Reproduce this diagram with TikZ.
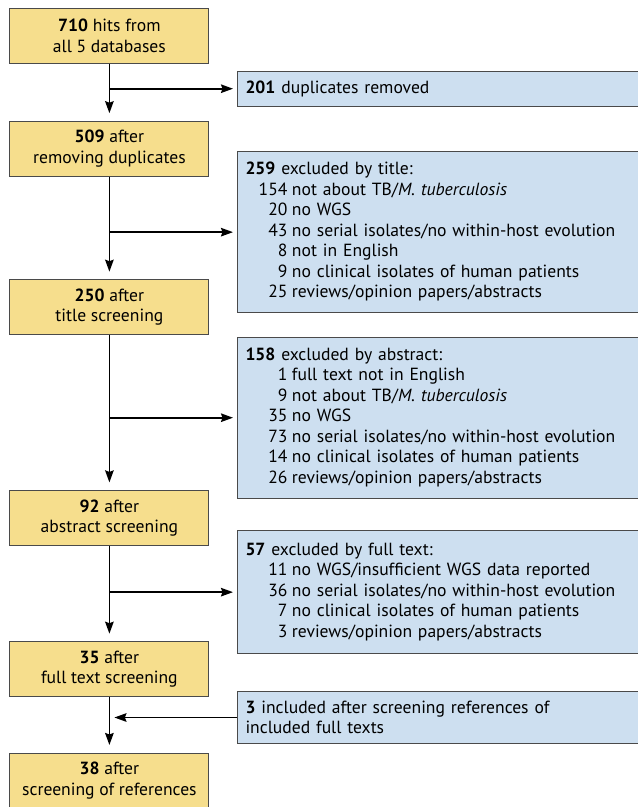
\documentclass[tikz,border=0pt]{standalone}
\usepackage{fontspec}
\setmainfont{PT Sans}
\usepackage{array}
\usetikzlibrary{arrows.meta}
\definecolor{boxyellow}{HTML}{F6DE8D}
\definecolor{boxblue}{HTML}{CDDFF0}
\definecolor{boxline}{HTML}{4A4A4A}
\newcolumntype{N}{>{\raggedleft\arraybackslash}p{42pt}}

\begin{document}
\begin{tikzpicture}[x=1pt,y=-1pt,
    every node/.style={font=\fontsize{17.6}{20.5}\selectfont},
    stage/.style={draw=boxline,fill=boxyellow,line width=1pt,minimum width=199pt,
      minimum height=55pt,inner sep=0pt,align=center},
    excl/.style={draw=boxline,fill=boxblue,line width=1pt,anchor=north west,
      text width=387pt,inner xsep=8pt,inner ysep=0pt,align=left},
    flow/.style={line width=1.8pt,-{Stealth[length=12pt,width=8.5pt,inset=1.5pt]}}]
  \useasboundingbox (0,0) rectangle (638,807);
  % stages
  \node[stage] (hits) at (109.4,35.8) {\textbf{710} hits from\\all 5 databases};
  \node[stage] (dedup) at (109.4,148.7) {\textbf{509} after\\removing duplicates};
  \node[stage] (title) at (109.4,307.2) {\textbf{250} after\\title screening};
  \node[stage] (abstr) at (109.4,517.9) {\textbf{92} after\\abstract screening};
  \node[stage] (full) at (109.4,669.2) {\textbf{35} after\\full text screening};
  \node[stage] (refs) at (109.4,780.5) {\textbf{38} after\\screening of references};
  % exclusions
  \node[excl,minimum height=35pt] (xdup) at (237,70.7) {\textbf{201} duplicates removed};
  \node[excl,minimum height=161.3pt] (xtitle) at (237,151)
    {\begin{tabular}{@{}N@{\hspace{4.5pt}}l@{}}
      \multicolumn{2}{@{}l@{}}{\textbf{259} excluded by title:}\\
      154 & not about TB/\textit{M. tuberculosis}\\
      20 & no WGS\\
      43 & no serial isolates/no within-host evolution\\
      8 & not in English\\
      9 & no clinical isolates of human patients\\
      25 & reviews/opinion papers/abstracts
    \end{tabular}};
  \node[excl,minimum height=161pt] (xabstr) at (237,336.7)
    {\begin{tabular}{@{}N@{\hspace{4.5pt}}l@{}}
      \multicolumn{2}{@{}l@{}}{\textbf{158} excluded by abstract:}\\
      1 & full text not in English\\
      9 & not about TB/\textit{M. tuberculosis}\\
      35 & no WGS\\
      73 & no serial isolates/no within-host evolution\\
      14 & no clinical isolates of human patients\\
      26 & reviews/opinion papers/abstracts
    \end{tabular}};
  \node[excl,minimum height=123.3pt] (xfull) at (237,530)
    {\begin{tabular}{@{}N@{\hspace{4.5pt}}l@{}}
      \multicolumn{2}{@{}l@{}}{\textbf{57} excluded by full text:}\\
      11 & no WGS/insufficient WGS data reported\\
      36 & no serial isolates/no within-host evolution\\
      7 & no clinical isolates of human patients\\
      3 & reviews/opinion papers/abstracts
    \end{tabular}};
  \node[excl,minimum height=52.6pt] (xref) at (237,690.7)
    {\textbf{3} included after screening references of\\included full texts};
  % arrows
  \foreach \a/\b in {hits/dedup, dedup/title, title/abstr, abstr/full, full/refs}
    \draw[flow,shorten >=7.5pt] (\a) -- (\b);
  \foreach \a/\x in {hits/xdup, dedup/xtitle, title/xabstr, abstr/xfull}
    \draw[flow,shorten >=4pt] (\a.south |- \x.west) -- (\x.west);
  \draw[flow,shorten >=5pt] (xref.west) -- (full.south |- xref.west);
\end{tikzpicture}
\end{document}
